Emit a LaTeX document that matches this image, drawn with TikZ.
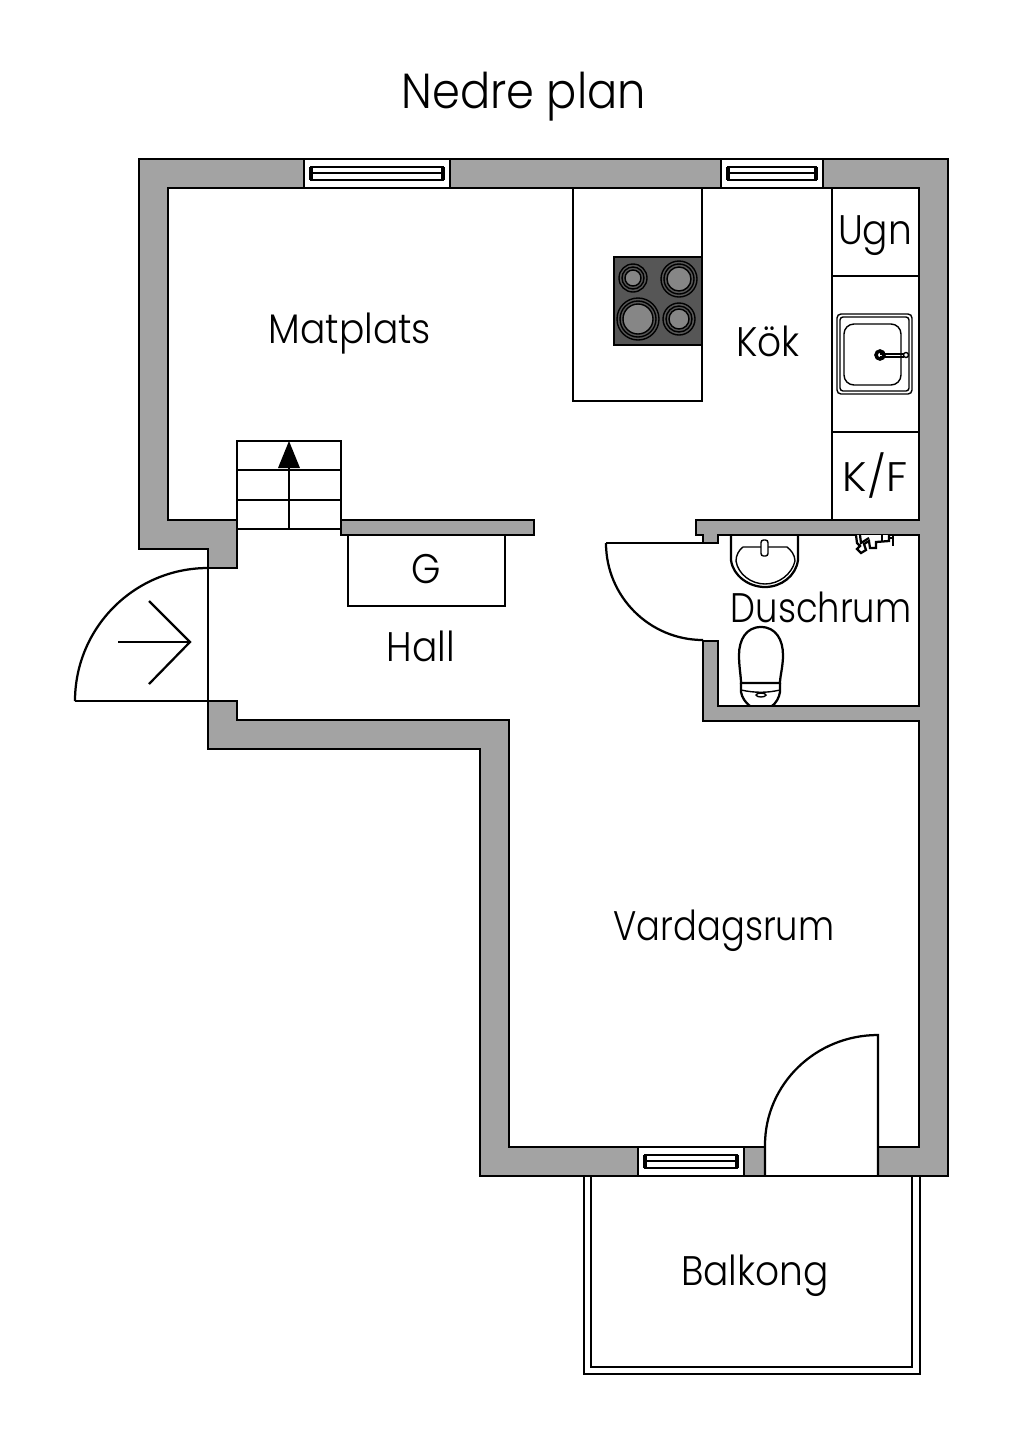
\documentclass[tikz,border=0pt]{standalone}
\usepackage{fontspec}
\usepackage{graphicx}
\setmainfont[FakeStretch=0.91]{Poppins Light}
\definecolor{wallgray}{HTML}{A3A3A3}
\definecolor{stovedark}{HTML}{565656}
\definecolor{burner}{HTML}{868686}
\tikzset{
  x=0.02cm,y=-0.02cm,
  wall/.style={fill=wallgray,draw=black,line width=0.05cm,line join=miter},
  ln/.style={draw=black,line width=0.045cm},
  thin ln/.style={draw=black,line width=0.028cm},
  room/.style={font=\fontsize{23.5}{28}\selectfont,inner sep=0pt,text=black,anchor=base},
  title/.style={font=\fontsize{28}{34}\selectfont,inner sep=0pt,text=black,anchor=base}
}
\newcommand{\winpane}[4]{% x1, x2, y1, y2
  \fill[white] (#1,#3) rectangle (#2,#4);
  \draw[ln] (#1,#3) rectangle (#2,#4);
  \draw[thin ln] ({#1+6},{#3+8}) -- ({#2-6},{#3+8});
  \draw[thin ln] ({#1+6},{#4-8}) -- ({#2-6},{#4-8});
  \draw[thin ln] ({#1+7},{#3+14}) -- ({#2-7},{#3+14});
  \draw[thin ln] ({#1+6},{#3+8}) -- ({#1+6},{#4-8});
  \draw[thin ln] ({#2-6},{#3+8}) -- ({#2-6},{#4-8});
  \draw[thin ln] ({#1+8},{#3+8}) -- ({#1+8},{#4-8});
  \draw[thin ln] ({#2-8},{#3+8}) -- ({#2-8},{#4-8});
}
\newcommand{\burnerring}[3]{% x, y, r
  \draw[thin ln] (#1,#2) circle (#3);
  \draw[thin ln] (#1,#2) circle ({#3-3});
  \draw[thin ln,fill=burner] (#1,#2) circle ({#3-6});
}
\begin{document}
\begin{tikzpicture}
\useasboundingbox (0,0) rectangle (1024,1448);
% balcony
\draw[ln] (584,1176) -- (584,1374) -- (920,1374) -- (920,1176);
\draw[ln] (591,1176) -- (591,1367) -- (912,1367) -- (912,1176);
% walls
\draw[wall] (168,188) -- (919,188) -- (919,520) -- (696,520) -- (696,535) -- (703,535) -- (703,543) -- (718,543) -- (718,535) -- (919,535) -- (919,706) -- (718,706) -- (718,641) -- (703,641) -- (703,721) -- (919,721) -- (919,1147) -- (509,1147) -- (509,720) -- (237,720) -- (237,701) -- (208,701) -- (208,749) -- (480,749) -- (480,1176) -- (948,1176) -- (948,159) -- (139,159) -- (139,549) -- (208,549) -- (208,568) -- (237,568) -- (237,520) -- (168,520) -- cycle;
\draw[wall] (341,520) rectangle (534,535);
% windows
\winpane{304}{450}{159}{188}
\winpane{721}{823}{159}{188}
\winpane{638}{744}{1147}{1176}
% balcony door
\fill[white] (765,1146) rectangle (878,1176);
\draw[ln] (765,1176) -- (878,1176);
\draw[ln] (878,1176) -- (878,1035) arc[start angle=90,end angle=180,x radius=113,y radius=-110] -- (765,1176);
% entrance door
\draw[ln] (208,568) -- (208,701) -- (75,701);
\draw[ln] (75,701) arc[start angle=180,end angle=90,x radius=133,y radius=-133];
\draw[ln] (118,642) -- (190,642);
\draw[ln] (149,601) -- (190,642) -- (149,684);
% bathroom door
\draw[ln] (703,543) -- (606,543);
\draw[ln] (606,543) arc[start angle=180,end angle=270,x radius=97,y radius=-97];
% stairs
\draw[ln] (237,441) rectangle (341,529);
\draw[ln] (237,470) -- (341,470);
\draw[ln] (237,500) -- (341,500);
\draw[ln] (289,468) -- (289,529);
\fill[black] (289,441) -- (300,468) -- (278,468) -- cycle;
% closet
\draw[ln] (348,535) -- (348,606) -- (505,606) -- (505,535);
% island and stove
\draw[ln] (573,188) -- (573,401) -- (702,401) -- (702,188);
\draw[thin ln,fill=stovedark] (614,257) rectangle (702,345);
\burnerring{633}{278}{14}
\burnerring{679}{279}{18}
\burnerring{638}{319}{21}
\burnerring{679}{319}{16}
% kitchen counter
\draw[ln] (832,188) -- (832,520);
\draw[ln] (832,276) -- (919,276);
\draw[ln] (832,432) -- (919,432);
% sink
\draw[thin ln,rounded corners=0.08cm] (837,314) rectangle (912,394);
\draw[thin ln,rounded corners=0.06cm] (840,317) rectangle (909,391);
\draw[thin ln,rounded corners=0.2cm] (844,324) rectangle (901,385);
\draw[line width=0.07cm] (880,355) circle (4);
\draw[thin ln] (880,354) -- (904,354);
\draw[thin ln] (880,357) -- (904,357);
\draw[thin ln,fill=white] (906,355) circle (2.5);
% wash basin
\draw[ln] (731,535) -- (731,560) .. controls (733,576) and (749,587) .. (765,587) .. controls (781,587) and (796,576) .. (798,560) -- (798,535);
\draw[thin ln] (743,547) -- (787,547) .. controls (791,550) and (795,555) .. (795,561) .. controls (792,574) and (779,584) .. (765,584) .. controls (751,584) and (738,574) .. (736,561) .. controls (736,555) and (739,550) .. (743,547) -- cycle;
\draw[thin ln,fill=white,rounded corners=0.05cm] (761,540) rectangle (768,556);
% shower mixer
\draw[ln,fill=white] (856,535) -- (857,543) -- (860,546) -- (857,549) -- (861,553) -- (866,550) -- (864,544) -- (869,541) -- (870,548) -- (876,548) -- (876,542) -- (889,541) -- (889,535);
\draw[ln] (860,535) -- (861,543) -- (869,538);
\draw[ln] (882,535) -- (882,541);
\draw[ln] (893,536) -- (893,546);
\draw[ln] (889,538) -- (893,538);
% toilet
\draw[ln] (761,627) .. controls (746,627) and (739,640) .. (739,655) .. controls (739,667) and (741,676) .. (741,683) -- (780,683) .. controls (780,676) and (783,667) .. (783,655) .. controls (783,640) and (776,627) .. (761,627) -- cycle;
\draw[ln] (741,683) -- (741,692) .. controls (742,698) and (746,703) .. (750,706);
\draw[ln] (780,683) -- (780,692) .. controls (779,698) and (776,703) .. (772,706);
\draw[thin ln] (741,690) .. controls (755,693) and (767,693) .. (780,690);
\draw[thin ln] (761,695) ellipse (5 and 2);
% labels
\node[title] (title) at (524,108) {Nedre plan};
\node[room] (matplats) at (350,343) {Matplats};
\node[room] (kok) at (768,356) {Kök};
\node[room] (ugn) at (875,244) {Ugn};
\node[room] (kf) at (875,491) {\scalebox{1.14}[1]{K/F}};
\node[room] (g) at (426,583) {G};
\node[room] (hall) at (421,661) {Hall};
\node[room] (dusch) at (821,622) {\scalebox{0.94}[1]{Duschrum}};
\node[room] (vardag) at (724,940) {\scalebox{0.94}[1]{Vardagsrum}};
\node[room] (balkong) at (755,1285) {Balkong};
\end{tikzpicture}
\end{document}
